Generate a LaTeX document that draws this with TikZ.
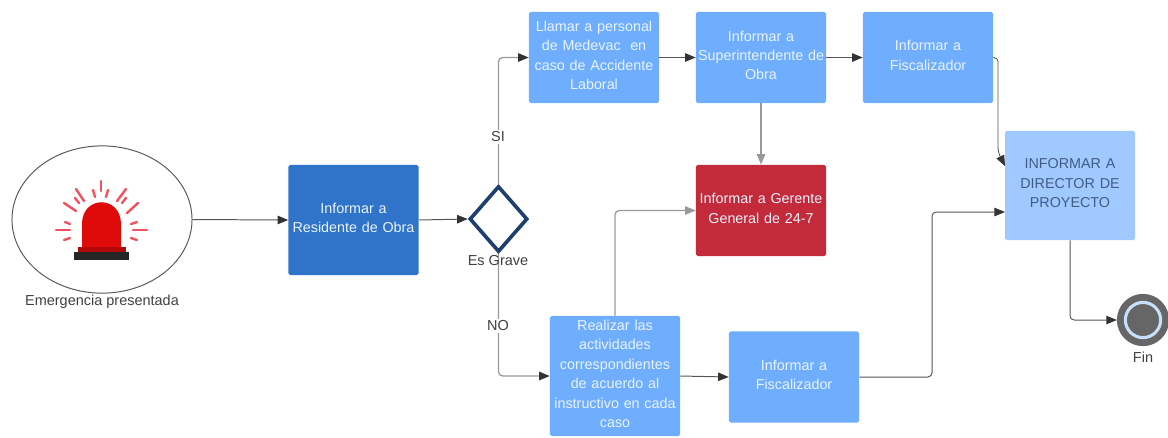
\documentclass[tikz,border=0pt]{standalone}
\usepackage{fontspec}
\setmainfont{Liberation Sans}
\usetikzlibrary{shapes,arrows.meta}

\definecolor{azulOscuro}{HTML}{2F74C8}
\definecolor{azulMedio}{HTML}{6FAEFF}
\definecolor{azulClaro}{HTML}{A0CAFF}
\definecolor{rojoCaja}{HTML}{C32A3A}
\definecolor{lineaGris}{HTML}{999999}
\definecolor{lineaOsc}{HTML}{555555}
\definecolor{rombo}{HTML}{1F3F70}
\definecolor{sirena}{HTML}{DF0A0A}
\definecolor{rayo}{HTML}{F0525F}

\tikzset{
  caja/.style={rectangle, rounded corners=1.2pt, minimum width=3.25cm, minimum height=2.28cm, inner sep=1pt,
    text width=3.15cm, align=center, text=white!85!azulMedio, fill=azulMedio, font=\fontsize{10.2}{13.8}\selectfont,
    execute at end node={\par\vspace{3pt}}},
  texto/.style={text=black!75, font=\fontsize{10.3}{14}\selectfont, inner sep=1pt},
  flecha/.style={-{Triangle[length=7.5pt,width=6pt,color=black!80]}, rounded corners=3pt, lineaOsc, line width=0.7pt},
  flechaM/.style={flecha, lineaGris, line width=0.9pt},
  flechaG/.style={-{Triangle[length=7.5pt,width=6pt,color=lineaGris]}, rounded corners=3pt, lineaGris, line width=0.9pt},
  rayoR/.style={rayo, line width=1.7pt, line cap=round}
}

\begin{document}
\begin{tikzpicture}[x=0.025cm, y=-0.025cm]
\useasboundingbox (0,0) rectangle (1168,437);

% emergencia
\node [ellipse, draw=black!65, line width=0.7pt, fill=white, minimum width=4.5cm, minimum height=3.68cm, inner sep=0] (emergencia) at (102,219.5) {};
\node [texto] (lblEmergencia) at (102,302) {Emergencia presentada};

% sirena
\fill [sirena] (82,247) -- (82,224) .. controls (82,195) and (121,195) .. (121,224) -- (121,247) -- cycle;
\fill [sirena!80!black] (77.5,247) rectangle (126,252);
\fill [black!85] (74,252) rectangle (128.5,260);
\foreach \xa/\ya/\xb/\yb in {101/181/101/191, 93/190/95/197, 108/190/106/197, 76/189/84/201, 126/189/117/201, 64/203/76/211, 138/203/127/213, 75/198/79/203, 126/198/122/203, 56/230/70/230, 133/230/147/230, 65/222/70/224, 131/224/137/222, 64/240/70/238, 131/238/137/240}{
  \draw [rayoR] (\xa,\ya) -- (\xb,\yb);
}

% cajas
\node [caja, fill=azulOscuro, minimum height=2.75cm] (residente) at (353.5,220) {Informar a\\Residente de Obra};
\node [diamond, draw=rombo, line width=2.6pt, fill=white, minimum width=1.45cm, minimum height=1.65cm, inner sep=0] (grave) at (498.5,219) {};
\node [caja] (llamar) at (594,57.5) {Llamar a personal\\de Medevac\ \ en\\caso de Accidente\\Laboral};
\node [caja] (superint) at (761,57.5) {Informar a\\Superintendente de\\Obra};
\node [caja] (fiscalA) at (928,57.5) {Informar a\\Fiscalizador};
\node [caja, fill=rojoCaja] (gerente) at (761,210.5) {Informar a Gerente\\General de 24-7};
\node [caja, minimum height=3cm] (realizar) at (615,376) {Realizar las\\actividades\\correspondientes\\de acuerdo al\\instructivo en cada\\caso};
\node [caja] (fiscalB) at (794,377) {Informar a\\Fiscalizador};
\node [caja, fill=azulClaro, text=rombo!85, minimum height=2.73cm] (director) at (1070,185.5) {INFORMAR A\\DIRECTOR DE\\PROYECTO};

% fin
\node [circle, draw=black!60, line width=3pt, fill=black!60, minimum size=1.2cm, inner sep=0] (fin) at (1143,320) {};
\node [circle, draw=azulClaro!60, line width=2.2pt, minimum size=0.88cm, inner sep=0] (finInt) at (1143,320) {};
\node [texto] (lblFin) at (1143,357) {Fin};

\coordinate (entrada1) at (998,152);
\coordinate (entrada2) at (1005,166);
\coordinate (entrada3) at (1005,212);
\coordinate (giro) at (932,212);
\coordinate (giro2) at (998,57.5);

% conectores
\draw [flecha] (emergencia.east) -- (residente.west);
\draw [flecha] (residente.east) -- (grave.west);
\draw [flechaM] (grave.north) |- (llamar.west);
\draw [flechaM] (grave.south) |- (realizar.west);
\draw [flecha] (llamar.east) -- (superint.west);
\draw [flecha] (superint.east) -- (fiscalA.west);
\draw [flechaG] (superint.south) -- (gerente.north);
\draw [flechaG] (realizar.north) |- (gerente.west);
\draw [flecha] (realizar.east) -- (fiscalB.west);
\draw [flecha] (fiscalB.east) -| (giro) -- (entrada3);
\draw [flecha, line width=0.6pt] (fiscalA.east) -- (giro2) -- (entrada1) -- (entrada2);
\draw [flecha] (director.south) |- (fin.west);

% etiquetas
\node [texto, fill=white] (lblSi) at (498,137) {SI};
\node [texto, fill=white] (lblNo) at (498,326) {NO};
\node [texto] (lblGrave) at (498,261) {Es Grave};

\end{tikzpicture}
\end{document}
